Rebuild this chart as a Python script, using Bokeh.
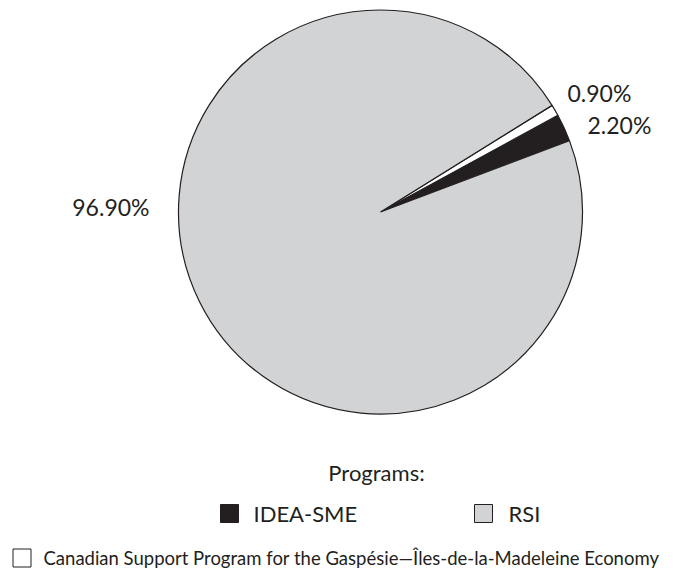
import math
from bokeh.plotting import figure
from bokeh.models import Range1d
from bokeh.core.properties import value
from bokeh.embed import file_html
from bokeh.resources import INLINE

# Data
programs = ["IDEA-SME", "Canadian Support Program for the Gaspésie\u2014Îles-de-la-Madeleine Economy", "RSI"]
shares = [2.2, 0.9, 96.9]
colors = ["#231f20", "#ffffff", "#d1d3d4"]
legend_title = "Programs:"

W, H = 680, 573
FONT = "Lato"
TXT = "#231f20"

p = figure(width=W, height=H, output_backend="svg", toolbar_location=None,
           x_range=Range1d(0, W), y_range=Range1d(0, H), min_border=0)
p.axis.visible = False
p.grid.visible = False
p.outline_line_color = None
p.background_fill_color = "white"
p.border_fill_color = "white"

def Y(py):
    return H - py

cx, cy, r = 380, Y(211.5), 202
start = math.radians(20.7)
total = sum(shares)
angles = []
a = start
for s in shares:
    b = a + 2 * math.pi * s / total
    angles.append((a, b))
    a = b

p.wedge(x=[cx] * 3, y=[cy] * 3, radius=r,
        start_angle=[t[0] for t in angles], end_angle=[t[1] for t in angles],
        fill_color=colors, line_color="#231f20", line_width=1.2)

# slice labels
lab = lambda v: f"{v:.2f}%"
p.text(x=[567], y=[Y(92)], text=[lab(shares[1])], text_font=value(FONT), text_font_size="23px",
       text_color=TXT, text_align="left", text_baseline="middle")
p.text(x=[587], y=[Y(124)], text=[lab(shares[0])], text_font=value(FONT), text_font_size="23px",
       text_color=TXT, text_align="left", text_baseline="middle")
p.text(x=[149], y=[Y(206)], text=[lab(shares[2])], text_font=value(FONT), text_font_size="23px",
       text_color=TXT, text_align="right", text_baseline="middle")

# legend
p.text(x=[376], y=[Y(472)], text=[legend_title], text_font=value(FONT), text_font_size="22px",
       text_color=TXT, text_align="center", text_baseline="middle")

sq_x = [229, 21.5, 483]
sq_y = [Y(513), Y(557.5), Y(513)]
p.scatter(x=sq_x, y=sq_y, marker="square", size=18, fill_color=colors,
          line_color="#231f20", line_width=1)

tx = [253, 43, 508]
p.text(x=tx, y=sq_y, text=programs, text_font=value(FONT),
       text_font_size=["22px", "18.5px", "22px"], text_color=TXT,
       text_align="left", text_baseline="middle")

open("out.html", "w").write(file_html(p, INLINE))
